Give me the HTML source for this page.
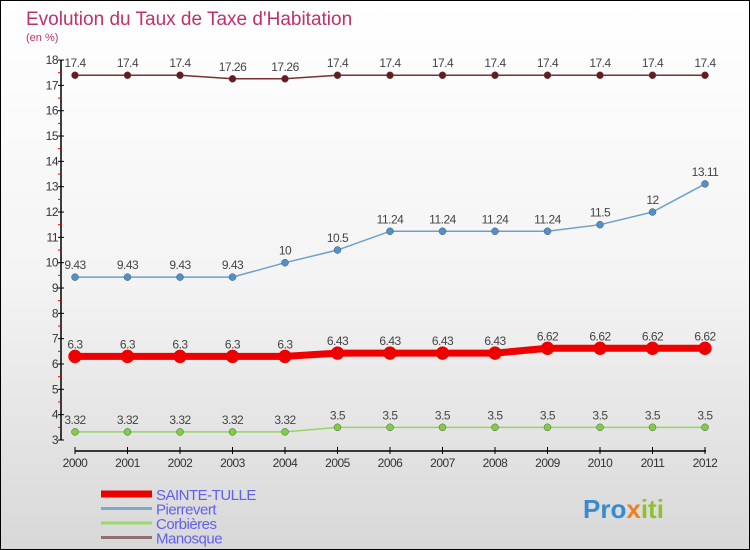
<!DOCTYPE html>
<html><head><meta charset="utf-8"><style>
body{margin:0}
#wrap{width:748px;height:548px;border:1px solid #000;background:linear-gradient(#fff 0%,#f4f4f4 50%,#d8d8d8 100%);position:relative;overflow:hidden;font-family:"Liberation Sans",sans-serif}
</style></head><body>
<div id="wrap">
<svg id="svg" width="748" height="548"></svg>
</div>
<script>
const years=[2000,2001,2002,2003,2004,2005,2006,2007,2008,2009,2010,2011,2012];
const sainteTulle=[6.3,6.3,6.3,6.3,6.3,6.43,6.43,6.43,6.43,6.62,6.62,6.62,6.62];
const pierrevert=[9.43,9.43,9.43,9.43,10,10.5,11.24,11.24,11.24,11.24,11.5,12,13.11];
const corbieres=[3.32,3.32,3.32,3.32,3.32,3.5,3.5,3.5,3.5,3.5,3.5,3.5,3.5];
const manosque=[17.4,17.4,17.4,17.26,17.26,17.4,17.4,17.4,17.4,17.4,17.4,17.4,17.4];
const yTicks=[3,4,5,6,7,8,9,10,11,12,13,14,15,16,17,18];
const NS="http://www.w3.org/2000/svg";
const svg=document.getElementById('svg');
function X(i){return 74+i*52.5;}
function Y(v){return 439-(v-3)*25.33;}
function el(t,a,txt){const e=document.createElementNS(NS,t);for(const k in a)e.setAttribute(k,a[k]);if(txt!==undefined)e.textContent=txt;svg.appendChild(e);return e;}
let t=el('text',{x:25,y:24,'font-size':19,fill:'#c0306a'},"Evolution du Taux de Taxe d'Habitation");


t=el('text',{x:25,y:40,'font-size':11,fill:'#c0306a'},"(en %)");


let ax=el('line',{x1:60,y1:Y(18),x2:60,y2:Y(3),stroke:'#000','stroke-width':1.5});


yTicks.forEach(v=>{
 el('line',{x1:57,x2:63,y1:Y(v),y2:Y(v),stroke:'#000'});
 if(v<18)el('line',{x1:57,x2:60,y1:Y(v+0.5),y2:Y(v+0.5),stroke:'#e00'});
 const l=el('text',{x:57,y:Y(v)+4,'font-size':12,fill:'#333','text-anchor':'end','letter-spacing':'-0.5'},v);
 
 
});
ax=el('line',{x1:74,y1:450,x2:705,y2:450,stroke:'#000','stroke-width':1.5});


years.forEach((y,i)=>{
 el('line',{x1:X(i),x2:X(i),y1:446,y2:453,stroke:'#000'});
 const l=el('text',{x:X(i),y:466,'font-size':12,fill:'#333','text-anchor':'middle','letter-spacing':'-0.5'},y);
 
 
});
function series(name,data,color,dotColor,w,r){
 const p=el('polyline',{points:data.map((v,i)=>X(i)+','+Y(v)).join(' '),fill:'none',stroke:color,'stroke-width':w});
 
 
 data.forEach((v,i)=>{
  const c=el('circle',{cx:X(i),cy:Y(v),r:r,fill:dotColor,stroke:color==='#e00'?'#e00':'#555','stroke-width':0.5});
  
  
  const l=el('text',{x:X(i),y:Y(v)-8,'font-size':12,fill:'#444','text-anchor':'middle','letter-spacing':'-0.5'},v);
  
  
 });
}
series('corbieres',corbieres,'#90d860','#7cd040',1.5,3.5);
series('pierrevert',pierrevert,'#6aa0d0','#5090cc',1.5,3.5);
series('sainte-tulle',sainteTulle,'#e00','#e00',7,6.5);
series('manosque',manosque,'#7a3030','#6a1a1a',1.5,3.5);
const leg=[['SAINTE-TULLE','#e00',7],['Pierrevert','#80a8c8',3],['Corbières','#98d870',3],['Manosque','#907070',3]];
leg.forEach((l,i)=>{
 const y=493+i*14.5;
 const ln=el('line',{x1:100,x2:151,y1:y,y2:y,stroke:l[1],'stroke-width':l[2]});
 
 
 const tx=el('text',{x:155,y:y+6,'font-size':15,fill:'#6060f0','letter-spacing':'-0.5'},l[0]);
 
 
});
const logo=el('text',{x:582,y:517,'font-size':26,'font-weight':'bold',fill:'#3a8ad0'},'');


[['Pro','#3a8ad0'],['x','#f08020'],['iti','#90c030']].forEach(p=>{const s=document.createElementNS(NS,'tspan');s.setAttribute('fill',p[1]);s.textContent=p[0];logo.appendChild(s);});
</script>
</body></html>
